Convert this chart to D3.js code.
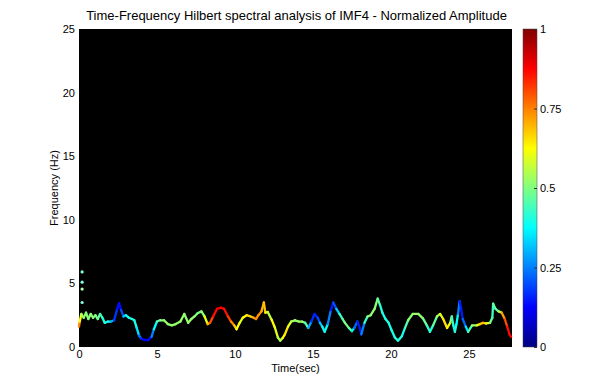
<!DOCTYPE html>
<html>
<head>
<meta charset="utf-8">
<script src="https://cdn.jsdelivr.net/npm/d3@7"></script>
<style>
  body { margin: 0; background: #fff; }
  svg { font-family: "Liberation Sans", Arial, sans-serif; }
</style>
</head>
<body>
<div id="grafica"></div>
<script>
// ---- datos ----
const tiempos = [0.0, 0.05, 0.15, 0.3, 0.45, 0.6, 0.75, 0.9, 1.05, 1.2, 1.35, 1.5, 1.65, 1.85, 2.05, 2.25, 2.45, 2.57, 2.7, 2.85,
  3.0, 3.2, 3.4, 3.55, 3.7, 3.85, 4.0, 4.2, 4.45, 4.65, 4.8, 5.0, 5.2, 5.45, 5.7, 5.95, 6.2, 6.5, 6.75, 7.0,
  7.2, 7.4, 7.6, 7.85, 8.05, 8.25, 8.4, 8.6, 8.85, 9.1, 9.3, 9.55, 9.75, 9.95, 10.1, 10.3, 10.5, 10.75, 11.0, 11.2,
  11.35, 11.5, 11.7, 11.85, 11.95, 12.1, 12.35, 12.55, 12.75, 12.9, 13.05, 13.2, 13.4, 13.6, 13.85, 14.1, 14.3, 14.5, 14.7, 14.9,
  15.1, 15.3, 15.45, 15.6, 15.75, 15.95, 16.15, 16.3, 16.5, 16.7, 16.9, 17.05, 17.3, 17.5, 17.65, 17.85, 18.0, 18.1, 18.3, 18.5,
  18.7, 18.95, 19.15, 19.3, 19.45, 19.65, 19.85, 20.05, 20.25, 20.45, 20.7, 20.9, 21.1, 21.4, 21.75, 22.05, 22.3, 22.5, 22.7, 22.95,
  23.15, 23.35, 23.6, 23.8, 23.9, 24.0, 24.1, 24.2, 24.3, 24.4, 24.5, 24.6, 24.8, 24.95, 25.2, 25.5, 25.7, 25.9, 26.1, 26.35,
  26.5, 26.55, 26.7, 26.9, 27.1, 27.3, 27.45, 27.6, 27.7];
const frecuencias = [1.6, 2.0, 2.6, 2.3, 2.7, 2.2, 2.6, 2.3, 2.5, 2.2, 2.6, 2.3, 1.9, 2.0, 2.0, 2.1, 3.0, 3.45, 2.9, 2.4,
  2.5, 2.3, 2.2, 2.1, 1.5, 0.9, 0.65, 0.55, 0.55, 0.8, 1.4, 2.0, 2.1, 2.1, 1.8, 1.7, 1.8, 2.0, 2.6, 1.9,
  2.2, 2.4, 2.65, 2.8, 2.4, 1.8, 1.9, 2.4, 3.0, 3.1, 3.0, 2.4, 2.0, 1.7, 1.4, 1.9, 2.3, 2.5, 2.4, 2.3,
  2.2, 2.5, 2.8, 3.5, 2.7, 2.75, 2.15, 1.55, 0.75, 0.5, 0.7, 1.0, 1.6, 2.0, 2.1, 2.0, 2.0, 1.9, 1.5, 2.0,
  2.6, 2.3, 1.9, 1.6, 1.2, 1.8, 2.9, 3.5, 3.0, 2.6, 2.2, 1.9, 1.5, 1.25, 1.5, 2.0, 1.5, 1.0, 1.9, 2.4,
  2.5, 3.0, 3.8, 3.3, 2.7, 2.2, 1.9, 1.3, 0.75, 0.5, 0.85, 1.5, 2.1, 2.6, 2.6, 2.25, 1.7, 1.2, 1.7, 2.4,
  2.6, 2.2, 1.5, 1.9, 2.4, 1.7, 1.2, 1.8, 2.6, 3.6, 3.0, 2.2, 1.6, 1.2, 1.7, 1.7, 1.8, 1.9, 1.85, 1.9,
  2.3, 3.4, 3.0, 2.8, 2.7, 2.2, 1.6, 1.0, 0.8];
const amplitudes = [0.8, 0.7, 0.55, 0.52, 0.5, 0.52, 0.5, 0.52, 0.5, 0.5, 0.45, 0.42, 0.4, 0.4, 0.38, 0.2, 0.15, 0.12, 0.15, 0.25,
  0.38, 0.4, 0.4, 0.4, 0.4, 0.3, 0.15, 0.12, 0.12, 0.15, 0.35, 0.4, 0.5, 0.52, 0.52, 0.52, 0.52, 0.52, 0.52, 0.52,
  0.52, 0.52, 0.5, 0.48, 0.55, 0.65, 0.75, 0.85, 0.88, 0.88, 0.87, 0.85, 0.78, 0.7, 0.65, 0.6, 0.6, 0.65, 0.66, 0.7,
  0.75, 0.72, 0.75, 0.65, 0.72, 0.52, 0.6, 0.65, 0.55, 0.52, 0.6, 0.65, 0.65, 0.55, 0.52, 0.52, 0.52, 0.5, 0.4, 0.18,
  0.15, 0.15, 0.25, 0.38, 0.4, 0.35, 0.15, 0.15, 0.25, 0.4, 0.45, 0.5, 0.5, 0.42, 0.3, 0.15, 0.15, 0.15, 0.35, 0.5,
  0.52, 0.52, 0.5, 0.42, 0.4, 0.4, 0.4, 0.4, 0.4, 0.4, 0.4, 0.4, 0.5, 0.52, 0.52, 0.52, 0.45, 0.4, 0.42, 0.52,
  0.55, 0.65, 0.65, 0.62, 0.45, 0.4, 0.4, 0.4, 0.35, 0.15, 0.15, 0.15, 0.3, 0.4, 0.5, 0.55, 0.65, 0.72, 0.65, 0.55,
  0.42, 0.45, 0.5, 0.42, 0.68, 0.75, 0.85, 0.88, 0.88];

// puntos sueltos al inicio
const sueltosT = [0.2, 0.2, 0.2, 0.2];
const sueltosF = [5.9, 5.1, 4.55, 3.5];
const sueltosA = [0.42, 0.42, 0.5, 0.42];

const ticksX = [0, 5, 10, 15, 20, 25];
const ticksY = [0, 5, 10, 15, 20, 25];
const ticksColor = [0, 0.25, 0.5, 0.75, 1];

const titulo = "Time-Frequency Hilbert spectral analysis of IMF4 - Normalized Amplitude";

// ---- configuración ----
const W = 606, H = 390;
const izq = 79, der = 512, arriba = 29, abajo = 347;

// mapa de color tipo "jet"
function jet(v) {
  const c = t => Math.max(0, Math.min(1, t));
  const r = c(1.5 - Math.abs(4 * v - 3));
  const g = c(1.5 - Math.abs(4 * v - 2));
  const b = c(1.5 - Math.abs(4 * v - 1));
  return d3.rgb(r * 255, g * 255, b * 255).toString();
}
const color = d3.scaleSequential(jet).domain([0, 1]);

const x = d3.scaleLinear().domain([0, 27.76]).range([izq, der]);
const y = d3.scaleLinear().domain([0, 25]).range([abajo, arriba]);
const yc = d3.scaleLinear().domain([0, 1]).range([abajo, arriba]);

const svg = d3.select("#grafica").append("svg")
  .attr("width", W).attr("height", H);

// fondo de los ejes
svg.append("rect")
  .attr("x", izq).attr("y", arriba)
  .attr("width", der - izq).attr("height", abajo - arriba)
  .attr("fill", "#000");

// ---- curva ----
const puntos = tiempos.map((t, i) => ({ t, f: frecuencias[i], a: amplitudes[i] }));
const segmentos = d3.pairs(puntos);

const gCurva = svg.append("g");
gCurva.selectAll("line")
  .data(segmentos)
  .join("line")
  .attr("x1", d => x(d[0].t)).attr("y1", d => y(d[0].f))
  .attr("x2", d => x(d[1].t)).attr("y2", d => y(d[1].f))
  .attr("stroke", d => color((d[0].a + d[1].a) / 2))
  .attr("stroke-width", 2.3)
  .attr("stroke-linecap", "round");

const sueltos = sueltosT.map((t, i) => ({ t, f: sueltosF[i], a: sueltosA[i] }));
gCurva.selectAll("circle")
  .data(sueltos)
  .join("circle")
  .attr("cx", d => x(d.t)).attr("cy", d => y(d.f))
  .attr("r", 1.6)
  .attr("fill", d => d3.interpolateRgb(color(d.a), "#fff")(0.4));

// ---- ejes ----
const ejeX = svg.append("g")
  .attr("transform", `translate(0,${abajo})`)
  .call(d3.axisBottom(x).tickValues(ticksX).tickSize(0).tickPadding(3));
const ejeY = svg.append("g")
  .attr("transform", `translate(${izq},0)`)
  .call(d3.axisLeft(y).tickValues(ticksY).tickSize(0).tickPadding(4));
[ejeX, ejeY].forEach(e => {
  e.select(".domain").remove();
  e.selectAll("text").attr("font-size", 11).attr("fill", "#000")
    .attr("font-family", "Liberation Sans, Arial, sans-serif");
});

svg.append("text")
  .attr("x", (izq + der) / 2).attr("y", 372)
  .attr("text-anchor", "middle")
  .attr("font-size", 11)
  .text("Time(sec)");

svg.append("text")
  .attr("transform", `translate(58,${(arriba + abajo) / 2}) rotate(-90)`)
  .attr("text-anchor", "middle")
  .attr("font-size", 11)
  .text("Frequency (Hz)");

svg.append("text")
  .attr("x", (izq + der) / 2 + 1).attr("y", 20)
  .attr("text-anchor", "middle")
  .attr("font-size", 13)
  .text(titulo);

// ---- barra de color ----
const cbX = 523, cbW = 14;
const grad = svg.append("defs").append("linearGradient")
  .attr("id", "jet").attr("x1", 0).attr("y1", 1).attr("x2", 0).attr("y2", 0);
grad.selectAll("stop")
  .data(d3.range(0, 1.0001, 0.0625))
  .join("stop")
  .attr("offset", d => d)
  .attr("stop-color", d => color(d));

svg.append("rect")
  .attr("x", cbX).attr("y", arriba)
  .attr("width", cbW).attr("height", abajo - arriba)
  .attr("fill", "url(#jet)")
  .attr("stroke", "#444").attr("stroke-width", 0.5);

const ejeC = svg.append("g")
  .attr("transform", `translate(${cbX + cbW},0)`)
  .call(d3.axisRight(yc).tickValues(ticksColor).tickSize(-3).tickPadding(3)
    .tickFormat(d => String(d)));
ejeC.select(".domain").remove();
ejeC.selectAll("line").attr("stroke", "#333");
ejeC.selectAll("text").attr("font-size", 11).attr("fill", "#000")
  .attr("font-family", "Liberation Sans, Arial, sans-serif");
</script>
</body>
</html>
